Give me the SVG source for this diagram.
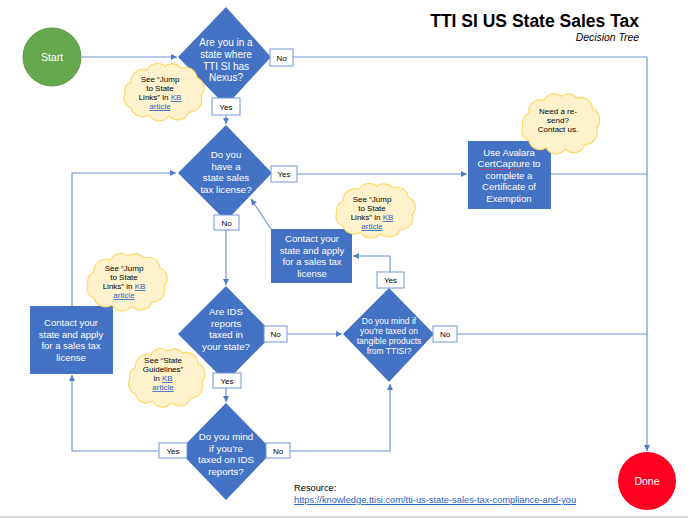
<svg xmlns="http://www.w3.org/2000/svg" width="688" height="518" viewBox="0 0 688 518">
<style>
  .conn{fill:none;stroke:#6F93D6;stroke-width:1.2}
  .dia{fill:#4472C4}
  .box{fill:#4472C4}
  .wt{fill:#fff;font-family:"Liberation Sans",Arial,sans-serif;text-anchor:middle}
  .lbl rect{fill:#fff;stroke:#7396D8;stroke-width:1}
  .lbl text{font-family:"Liberation Sans",Arial,sans-serif;font-size:8px;fill:#000;text-anchor:middle}
  .cloud path{fill:#FFF2CC;stroke:#FFD966;stroke-width:1.2}
  .ct{font-family:"Liberation Sans",Arial,sans-serif;font-size:8px;fill:#000;text-anchor:middle}
  .lnk{fill:#1F5FC8;text-decoration:underline}
</style>
<defs>
  <marker id="arr" markerWidth="8" markerHeight="8" refX="6" refY="3" orient="auto" markerUnits="userSpaceOnUse">
    <path d="M0,0 L6,3 L0,6 Z" fill="#4F7ACB"/>
  </marker>
  <path id="cl" d="M12,20 A12 12 0 0 1 28,8 A12 12 0 0 1 46,4 A12 12 0 0 1 62,6 A12 12 0 0 1 78,16 A11 11 0 0 1 82,34 A12 12 0 0 1 70,50 A12 12 0 0 1 50,54 A12 12 0 0 1 30,53 A12 12 0 0 1 12,46 A10 10 0 0 1 6,32 A10 10 0 0 1 12,20 Z"/>
</defs>
<rect width="688" height="518" fill="#fff"/>
<line x1="0" y1="517" x2="688" y2="517" stroke="#DADADA" stroke-width="2"/>

<g id="title" font-family="'Liberation Sans',Arial,sans-serif" text-anchor="end">
  <text x="639" y="27" font-size="17.5" font-weight="bold" fill="#000">TTI SI US State Sales Tax</text>
  <text x="639" y="41" font-size="10.4" font-style="italic" fill="#000">Decision Tree</text>
</g>

<g id="connectors">
  <line class="conn" x1="82" y1="57" x2="177" y2="57" marker-end="url(#arr)"/>
  <polyline class="conn" points="271,57 647,57 647,451" marker-end="url(#arr)"/>
  <line class="conn" x1="226" y1="106" x2="226" y2="124" marker-end="url(#arr)"/>
  <line class="conn" x1="272" y1="174" x2="467" y2="174" marker-end="url(#arr)"/>
  <line class="conn" x1="551" y1="174" x2="647" y2="174"/>
  <line class="conn" x1="226" y1="221" x2="226" y2="285" marker-end="url(#arr)"/>
  <line class="conn" x1="271" y1="229" x2="251" y2="199" marker-end="url(#arr)"/>
  <polyline class="conn" points="72,306 72,173 176,173" marker-end="url(#arr)"/>
  <polyline class="conn" points="390,288 390,256 353,256" marker-end="url(#arr)"/>
  <line class="conn" x1="273" y1="334" x2="342" y2="334" marker-end="url(#arr)"/>
  <line class="conn" x1="434" y1="334" x2="647" y2="334"/>
  <line class="conn" x1="226" y1="382" x2="226" y2="402" marker-end="url(#arr)"/>
  <polyline class="conn" points="179,451 72,451 72,375" marker-end="url(#arr)"/>
  <polyline class="conn" points="273,451 390,451 390,384" marker-end="url(#arr)"/>
</g>

<g id="start">
  <circle cx="52" cy="57" r="29" fill="#66A84E" stroke="#5A9544" stroke-width="1"/>
  <text class="wt" x="52" y="61" font-size="10.5">Start</text>
</g>
<g id="done">
  <circle cx="647" cy="481" r="29" fill="#FF0022"/>
  <text class="wt" x="647" y="485" font-size="10.5">Done</text>
</g>

<g id="q-nexus">
  <polygon class="dia" points="226,7 271,57 226,106 178,57"/>
  <text class="wt" font-size="10" x="226"><tspan x="226" y="46">Are you in a</tspan><tspan x="226" y="58">state where</tspan><tspan x="226" y="70">TTI SI has</tspan><tspan x="226" y="81">Nexus?</tspan></text>
</g>
<g id="q-license">
  <polygon class="dia" points="226,125 272,173 226,221 178,173"/>
  <text class="wt" font-size="9.7"><tspan x="226" y="158">Do you</tspan><tspan x="226" y="170">have a</tspan><tspan x="226" y="181">state sales</tspan><tspan x="226" y="193">tax license?</tspan></text>
</g>
<g id="q-ids">
  <polygon class="dia" points="226,286 273,334 226,382 178,334"/>
  <text class="wt" font-size="9.7"><tspan x="226" y="315">Are IDS</tspan><tspan x="226" y="327">reports</tspan><tspan x="226" y="338">taxed in</tspan><tspan x="226" y="350">your state?</tspan></text>
</g>
<g id="q-tangible">
  <polygon class="dia" points="389,288 434,334 389,382 343,334"/>
  <text class="wt" font-size="8.5"><tspan x="389" y="324">Do you mind if</tspan><tspan x="389" y="334">you’re taxed on</tspan><tspan x="389" y="344">tangible products</tspan><tspan x="389" y="354">from TTISI?</tspan></text>
</g>
<g id="q-idsmind">
  <polygon class="dia" points="226,403 273,451 226,500 179,451"/>
  <text class="wt" font-size="9.7"><tspan x="226" y="440">Do you mind</tspan><tspan x="226" y="452">if you’re</tspan><tspan x="226" y="463">taxed on IDS</tspan><tspan x="226" y="475">reports?</tspan></text>
</g>

<g id="avalara">
  <rect class="box" x="468" y="141" width="83" height="68"/>
  <text class="wt" font-size="9.6"><tspan x="509" y="156">Use Avalara</tspan><tspan x="509" y="167">CertCapture to</tspan><tspan x="509" y="179">complete a</tspan><tspan x="509" y="190">Certificate of</tspan><tspan x="509" y="202">Exemption</tspan></text>
  <path d="M479,169.5 q1,-1 2,0 t2,0 t2,0 t2,0 t2,0 t2,0 t2,0 t2,0 t2,0 t2,0 t2,0 t2,0 t2,0 t2,0 t2,0 t2,0 t2,0 t2,0 t2,0 t2,0 t2,0" fill="none" stroke="#E0303A" stroke-width="0.7"/>
</g>
<g id="contact-mid">
  <rect class="box" x="271" y="229" width="81" height="54"/>
  <text class="wt" font-size="9.5"><tspan x="312" y="242">Contact your</tspan><tspan x="312" y="254">state and apply</tspan><tspan x="312" y="265">for a sales tax</tspan><tspan x="312" y="277">license</tspan></text>
</g>
<g id="contact-left">
  <rect class="box" x="30" y="306" width="83" height="68"/>
  <text class="wt" font-size="9.5"><tspan x="71" y="326">Contact your</tspan><tspan x="71" y="338">state and apply</tspan><tspan x="71" y="349">for a sales tax</tspan><tspan x="71" y="361">license</tspan></text>
</g>

<g id="labels" class="lbl">
  <g><rect x="270" y="49" width="23" height="17"/><text x="281.5" y="60.5">No</text></g>
  <g><rect x="212" y="98" width="28" height="17"/><text x="226" y="109.5">Yes</text></g>
  <g><rect x="271" y="166" width="26" height="16"/><text x="284" y="177">Yes</text></g>
  <g><rect x="214" y="215" width="25" height="15"/><text x="226.5" y="225.5">No</text></g>
  <g><rect x="377" y="272" width="27" height="16"/><text x="390.5" y="283">Yes</text></g>
  <g><rect x="264" y="326" width="23" height="16"/><text x="275.5" y="337">No</text></g>
  <g><rect x="433" y="326" width="24" height="16"/><text x="445" y="337">No</text></g>
  <g><rect x="213" y="373" width="28" height="15"/><text x="227" y="383.5">Yes</text></g>
  <g><rect x="159" y="443" width="28" height="15"/><text x="173" y="453.5">Yes</text></g>
  <g><rect x="266" y="443" width="24" height="15"/><text x="278" y="453.5">No</text></g>
</g>

<g id="note-nexus" class="cloud">
  <use href="#cl" transform="translate(119,62) scale(1.0,1.0)" fill="#FFF2CC" stroke="#FFD966" stroke-width="1.2"/>
  <text class="ct"><tspan x="160" y="82">See “Jump</tspan><tspan x="160" y="91">to State</tspan><tspan x="160" y="100">Links” in <tspan class="lnk">KB</tspan></tspan><tspan x="160" y="109" class="lnk">article</tspan></text>
</g>
<g id="note-resend" class="cloud">
  <use href="#cl" transform="translate(517,92) scale(0.97,1.05)" fill="#FFF2CC" stroke="#FFD966" stroke-width="1.2"/>
  <text class="ct"><tspan x="558" y="114">Need a re-</tspan><tspan x="558" y="123">send?</tspan><tspan x="558" y="132">Contact us.</tspan></text>
</g>
<g id="note-mid" class="cloud">
  <use href="#cl" transform="translate(331,182) scale(0.99,0.95)" fill="#FFF2CC" stroke="#FFD966" stroke-width="1.2"/>
  <text class="ct"><tspan x="372" y="202">See “Jump</tspan><tspan x="372" y="211">to State</tspan><tspan x="372" y="220">Links” in <tspan class="lnk">KB</tspan></tspan><tspan x="372" y="229" class="lnk">article</tspan></text>
</g>
<g id="note-left" class="cloud">
  <use href="#cl" transform="translate(82,252) scale(1.0,1.0)" fill="#FFF2CC" stroke="#FFD966" stroke-width="1.2"/>
  <text class="ct"><tspan x="124" y="271">See “Jump</tspan><tspan x="124" y="280">to State</tspan><tspan x="124" y="289">Links” in <tspan class="lnk">KB</tspan></tspan><tspan x="124" y="298" class="lnk">article</tspan></text>
</g>
<g id="note-guidelines" class="cloud">
  <use href="#cl" transform="translate(124,347) scale(0.95,1.02)" fill="#FFF2CC" stroke="#FFD966" stroke-width="1.2"/>
  <text class="ct"><tspan x="163" y="363">See “State</tspan><tspan x="163" y="372">Guidelines”</tspan><tspan x="163" y="381">in <tspan class="lnk">KB</tspan></tspan><tspan x="163" y="390" class="lnk">article</tspan></text>
</g>

<g id="resource" font-family="'Liberation Sans',Arial,sans-serif" font-size="9.3">
  <text x="294" y="491" fill="#000">Resource:</text>
  <text x="294" y="503" fill="#1F5FC8" text-decoration="underline">https://knowledge.ttisi.com/tti-us-state-sales-tax-compliance-and-you</text>
</g>
</svg>
